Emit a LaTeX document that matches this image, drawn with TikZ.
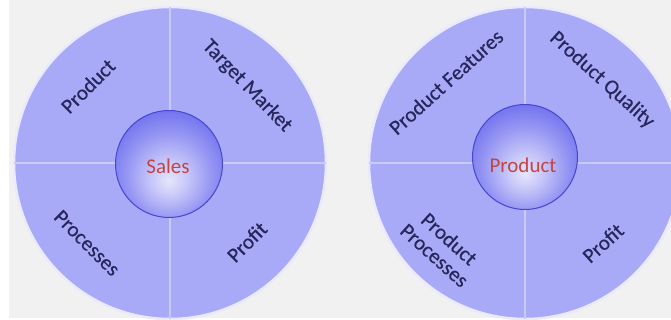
\documentclass[tikz,border=0pt]{standalone}
\usepackage{fontspec}
\usetikzlibrary{calc}
\setmainfont{Carlito}
\newfontfamily\lblfont[FakeBold=0.4]{Carlito}
\definecolor{bgray}{HTML}{F1F1F1}
\definecolor{disc}{HTML}{A9AAF7}
\definecolor{divider}{HTML}{C9CAF9}
\definecolor{ballblue}{HTML}{5555EC}
\definecolor{ballrim}{HTML}{4646D0}
\definecolor{navy}{HTML}{26265A}
\definecolor{redtxt}{HTML}{C44444}
\pgfdeclareradialshading{ball}{\pgfpoint{0bp}{-8bp}}{%
  color(0bp)=(white!85!ballblue); color(8bp)=(white!68!ballblue); color(20bp)=(white!38!ballblue);
  color(32bp)=(white!12!ballblue); color(42bp)=(ballblue); color(60bp)=(ballblue)}
\tikzset{
  disk/.style={fill=disc, draw=white!75!disc, line width=2.5pt},
  divline/.style={draw=divider, line width=1.3pt},
  ballstyle/.style={circle, shading=ball, draw=ballrim, line width=1pt, minimum size=#1, inner sep=0pt},
  lbl/.style={text=navy, font=\lblfont\fontsize{21}{22}\selectfont, align=center, inner sep=0pt},
  ctr/.style={text=redtxt, font=\fontsize{21}{22}\selectfont, inner sep=0pt}
}
\begin{document}
\begin{tikzpicture}[x=1pt,y=-1pt]
\useasboundingbox (0,0) rectangle (671,320);
\fill[white] (0,0) rectangle (671,320);
\fill[bgray] (9,0) rectangle (671,318);
\coordinate (L) at (170,163);
\coordinate (R) at (525,163);
\begin{scope}
\clip (0,0) rectangle (671,320);
\draw[disk] (L) circle[radius=156];
\draw[divline] ($(L)+(-156,0)$) -- ($(L)+(156,0)$);
\draw[divline] ($(L)+(0,-156)$) -- ($(L)+(0,156)$);
\draw[disk] (R) circle[radius=156];
\draw[divline] ($(R)+(-156,0)$) -- ($(R)+(156,0)$);
\draw[divline] ($(R)+(0,-156)$) -- ($(R)+(0,156)$);
\end{scope}
\node[ballstyle=107pt] (sball) at (169,164) {};
\node[ctr] (sales) at (168,166) {Sales};
\node[lbl, rotate=45] (lprod) at (88,86) {Product};
\node[lbl, rotate=-46] (ltm) at (247,86) {Target Market};
\node[lbl, rotate=-45] (lproc) at (87,243) {Processes};
\node[lbl, rotate=45] (lprof) at (247,242) {Profit};
\node[ballstyle=105pt] (pball) at (525,157) {};
\node[ctr] (prod) at (523,165) {Product};
\node[lbl, rotate=42] (rfeat) at (446,82) {Product Features};
\node[lbl, rotate=-42] (rqual) at (602,80) {Product Quality};
\node[lbl, rotate=-42] (rproc) at (442,247) {Product\\Processes};
\node[lbl, rotate=42] (rprof) at (603,243) {Profit};
\end{tikzpicture}
\end{document}
